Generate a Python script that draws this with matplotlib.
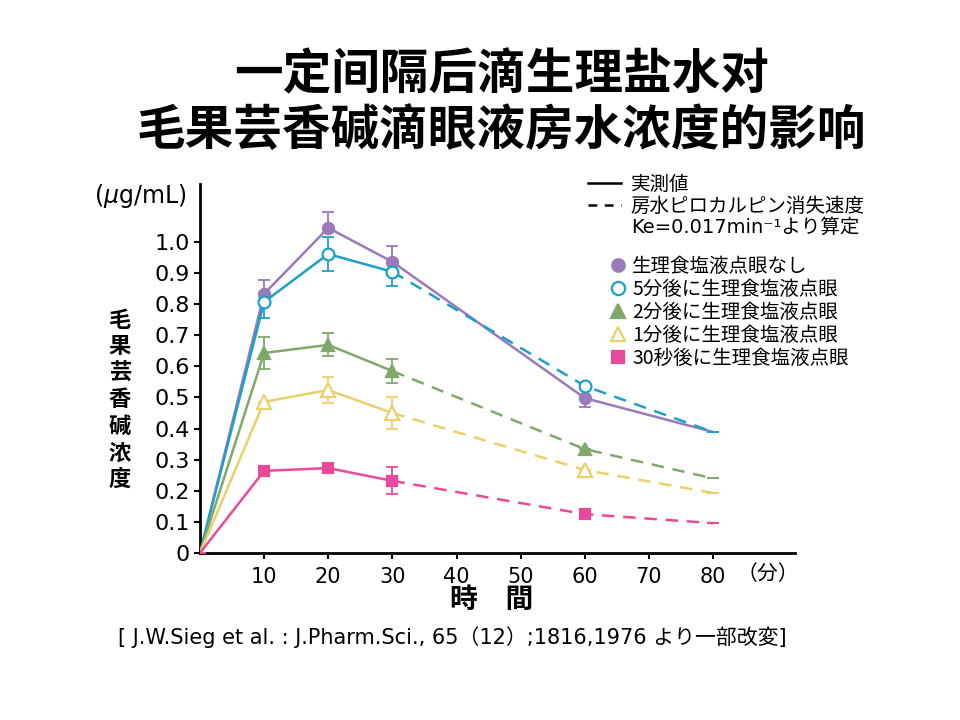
import matplotlib
matplotlib.use('Agg')
import matplotlib.pyplot as plt
from matplotlib.lines import Line2D

plt.rcParams['font.family'] = ['Noto Sans CJK JP', 'DejaVu Sans']

# 数据
times = [0, 10, 20, 30, 60, 80]
no_drop = [0, 0.833, 1.045, 0.936, 0.498, 0.389]
after5 = [0, 0.807, 0.961, 0.904, 0.537, 0.389]
after2 = [0, 0.643, 0.669, 0.585, 0.334, 0.240]
after1 = [0, 0.486, 0.524, 0.450, 0.267, 0.193]
after30s = [0, 0.264, 0.273, 0.232, 0.125, 0.096]

# 误差（下, 上）
no_drop_err = ([0, 0, 0, 0, 0.03, 0], [0, 0.045, 0.05, 0.05, 0, 0])
after5_err = ([0, 0.05, 0.055, 0.046, 0, 0], [0, 0, 0.055, 0, 0, 0])
after2_err = ([0, 0.05, 0.037, 0.04, 0, 0], [0, 0.05, 0.037, 0.04, 0, 0])
after1_err = ([0, 0, 0.043, 0.05, 0, 0], [0, 0, 0.043, 0.05, 0, 0])
after30s_err = ([0, 0, 0, 0.043, 0, 0], [0, 0, 0, 0.043, 0, 0])

labels = ['生理食塩液点眼なし', '5分後に生理食塩液点眼', '2分後に生理食塩液点眼',
          '1分後に生理食塩液点眼', '30秒後に生理食塩液点眼']
yticks = [0, 0.1, 0.2, 0.3, 0.4, 0.5, 0.6, 0.7, 0.8, 0.9, 1.0]
ytick_labels = ['0', '0.1', '0.2', '0.3', '0.4', '0.5', '0.6', '0.7', '0.8', '0.9', '1.0']
xticks = [10, 20, 30, 40, 50, 60, 70, 80]

series = [
    (no_drop, no_drop_err, '#9a7ab8', 'o', '#9a7ab8', 8),
    (after5, after5_err, '#1ba1c9', 'o', 'white', 8.5),
    (after2, after2_err, '#7fa96a', '^', '#7fa96a', 9),
    (after1, after1_err, '#ead06a', '^', 'white', 9.5),
    (after30s, after30s_err, '#e9499a', 's', '#e9499a', 7),
]

fig = plt.figure(figsize=(9.6, 7.2), dpi=100)
ax = fig.add_axes([0.2083, 0.2319, 0.620, 0.5125])

handles = []
for i, (vals, err, col, mk, fc, ms) in enumerate(series):
    if i == 0:
        ax.plot(times, vals, color=col, lw=1.8, zorder=2)
    else:
        ax.plot(times[:4], vals[:4], color=col, lw=1.8, zorder=2 + i)
        ax.plot(times[3:], vals[3:], color=col, lw=1.8, dashes=(5, 3.5), zorder=2 + i)
    ax.errorbar(times, vals, yerr=[err[0], err[1]], fmt='none', ecolor=col,
                elinewidth=1.3, capsize=4, capthick=1.3, zorder=2 + i)
    ax.plot(times[1:5], vals[1:5], linestyle='none', marker=mk, markersize=ms,
            markerfacecolor=fc, markeredgecolor=col, markeredgewidth=1.6, zorder=3 + i)
    handles.append(Line2D([], [], linestyle='none', marker=mk, markersize=ms + 1,
                          markerfacecolor=fc, markeredgecolor=col, markeredgewidth=1.6))

ax.set_xlim(0, 92.8)
ax.set_ylim(0, 1.186)
ax.spines['top'].set_visible(False)
ax.spines['right'].set_visible(False)
ax.spines['left'].set_linewidth(2)
ax.spines['bottom'].set_linewidth(2)
ax.set_yticks(yticks)
ax.set_yticklabels(ytick_labels, family=['DejaVu Sans'], fontsize=16)
ax.set_xticks(xticks)
ax.set_xticklabels([str(v) for v in xticks], family=['Liberation Sans Narrow', 'DejaVu Sans'], fontsize=15)
ax.tick_params(axis='both', direction='out', length=4, width=1.5, pad=3)
ax.tick_params(axis='x', pad=6)

# 图例
leg1 = fig.legend([Line2D([], [], color='black', lw=1.8),
                   Line2D([], [], color='black', lw=1.8, dashes=(3.5, 3)),
                   Line2D([], [], color='none')],
                  ['実測値', '房水ピロカルピン消失速度', 'Ke=0.017min⁻¹より算定'],
                  loc='upper left', bbox_to_anchor=(588 / 960, 1 - 174 / 720),
                  frameon=False, fontsize=14, handlelength=1.7, handletextpad=0.5,
                  borderpad=0, labelspacing=0.05, borderaxespad=0)
leg1.get_texts()[2].set_family(['DejaVu Sans', 'Noto Sans CJK JP'])
leg2 = fig.legend(handles, labels, loc='upper left',
                  bbox_to_anchor=(610 / 960, 1 - 256 / 720),
                  frameon=False, fontsize=14, handlelength=0.8, handletextpad=0.35,
                  borderpad=0, labelspacing=0.1, borderaxespad=0)

# 标题
fig.text(0.522, 1 - 75 / 720, '一定间隔后滴生理盐水对', ha='center', va='center',
         fontsize=35, fontweight='bold', family=['Noto Sans CJK SC', 'DejaVu Sans'])
fig.text(0.522, 1 - 130 / 720, '毛果芸香碱滴眼液房水浓度的影响', ha='center', va='center',
         fontsize=35, fontweight='bold', family=['Noto Sans CJK SC', 'DejaVu Sans'])

# 轴标题
fig.text(120 / 960, 1 - 400 / 720, '毛\n果\n芸\n香\n碱\n浓\n度', ha='center', va='center',
         fontsize=16, fontweight='bold', linespacing=1.2)
fig.text(140 / 960, 1 - 196 / 720, '($\\mu$g/mL)', ha='center', va='center',
         fontsize=17, family=['DejaVu Sans'])
fig.text(492 / 960, 1 - 600 / 720, '時　間', ha='center', va='center',
         fontsize=20, fontweight='bold')
fig.text(768 / 960, 1 - 574 / 720, '（分）', ha='center', va='center', fontsize=15)
fig.text(452 / 960, 1 - 637 / 720,
         '[ J.W.Sieg et al. : J.Pharm.Sci., 65（12）;1816,1976 より一部改変]',
         ha='center', va='center', fontsize=15, family=['DejaVu Sans', 'Noto Sans CJK JP'])

fig.savefig('out.png', dpi=100)
